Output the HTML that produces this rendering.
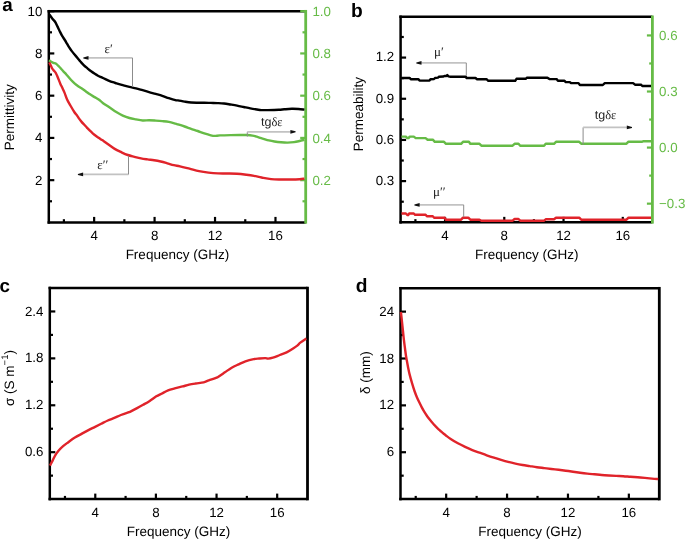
<!DOCTYPE html>
<html><head><meta charset="utf-8"><title>Figure</title>
<style>html,body{margin:0;padding:0;background:#fff;width:685px;height:540px;overflow:hidden}svg{display:block;will-change:transform;text-rendering:geometricPrecision}</style>
</head><body>
<svg width="685" height="540" viewBox="0 0 685 540">
<rect width="685" height="540" fill="#fff"/>
<line x1="63.91" y1="222.4" x2="63.91" y2="219.2" stroke="#000" stroke-width="2.2" stroke-linecap="butt"/>
<line x1="94.14" y1="222.4" x2="94.14" y2="216.9" stroke="#000" stroke-width="2.2" stroke-linecap="butt"/>
<text x="94.14" y="240.1" font-size="13.3" text-anchor="middle" fill="#000" font-family='"Liberation Sans", sans-serif' >4</text>
<line x1="124.36" y1="222.4" x2="124.36" y2="219.2" stroke="#000" stroke-width="2.2" stroke-linecap="butt"/>
<line x1="154.58" y1="222.4" x2="154.58" y2="216.9" stroke="#000" stroke-width="2.2" stroke-linecap="butt"/>
<text x="154.58" y="240.1" font-size="13.3" text-anchor="middle" fill="#000" font-family='"Liberation Sans", sans-serif' >8</text>
<line x1="184.81" y1="222.4" x2="184.81" y2="219.2" stroke="#000" stroke-width="2.2" stroke-linecap="butt"/>
<line x1="215.03" y1="222.4" x2="215.03" y2="216.9" stroke="#000" stroke-width="2.2" stroke-linecap="butt"/>
<text x="215.03" y="240.1" font-size="13.3" text-anchor="middle" fill="#000" font-family='"Liberation Sans", sans-serif' >12</text>
<line x1="245.25" y1="222.4" x2="245.25" y2="219.2" stroke="#000" stroke-width="2.2" stroke-linecap="butt"/>
<line x1="275.48" y1="222.4" x2="275.48" y2="216.9" stroke="#000" stroke-width="2.2" stroke-linecap="butt"/>
<text x="275.48" y="240.1" font-size="13.3" text-anchor="middle" fill="#000" font-family='"Liberation Sans", sans-serif' >16</text>
<line x1="48.8" y1="201.28" x2="52" y2="201.28" stroke="#000" stroke-width="2.2" stroke-linecap="butt"/>
<line x1="48.8" y1="180.16" x2="54.3" y2="180.16" stroke="#000" stroke-width="2.2" stroke-linecap="butt"/>
<text x="42.4" y="184.66" font-size="13.3" text-anchor="end" fill="#000" font-family='"Liberation Sans", sans-serif' >2</text>
<line x1="48.8" y1="159.04" x2="52" y2="159.04" stroke="#000" stroke-width="2.2" stroke-linecap="butt"/>
<line x1="48.8" y1="137.92" x2="54.3" y2="137.92" stroke="#000" stroke-width="2.2" stroke-linecap="butt"/>
<text x="42.4" y="142.42" font-size="13.3" text-anchor="end" fill="#000" font-family='"Liberation Sans", sans-serif' >4</text>
<line x1="48.8" y1="116.8" x2="52" y2="116.8" stroke="#000" stroke-width="2.2" stroke-linecap="butt"/>
<line x1="48.8" y1="95.68" x2="54.3" y2="95.68" stroke="#000" stroke-width="2.2" stroke-linecap="butt"/>
<text x="42.4" y="100.18" font-size="13.3" text-anchor="end" fill="#000" font-family='"Liberation Sans", sans-serif' >6</text>
<line x1="48.8" y1="74.56" x2="52" y2="74.56" stroke="#000" stroke-width="2.2" stroke-linecap="butt"/>
<line x1="48.8" y1="53.44" x2="54.3" y2="53.44" stroke="#000" stroke-width="2.2" stroke-linecap="butt"/>
<text x="42.4" y="57.94" font-size="13.3" text-anchor="end" fill="#000" font-family='"Liberation Sans", sans-serif' >8</text>
<line x1="48.8" y1="32.32" x2="52" y2="32.32" stroke="#000" stroke-width="2.2" stroke-linecap="butt"/>
<line x1="48.8" y1="11.2" x2="54.3" y2="11.2" stroke="#000" stroke-width="2.2" stroke-linecap="butt"/>
<text x="42.4" y="15.7" font-size="13.3" text-anchor="end" fill="#000" font-family='"Liberation Sans", sans-serif' >10</text>
<line x1="47.55" y1="11.2" x2="305.7" y2="11.2" stroke="#000" stroke-width="2.5" stroke-linecap="butt"/>
<line x1="48.8" y1="9.95" x2="48.8" y2="223.65" stroke="#000" stroke-width="2.5" stroke-linecap="butt"/>
<line x1="47.55" y1="222.4" x2="305.7" y2="222.4" stroke="#000" stroke-width="2.5" stroke-linecap="butt"/>
<line x1="305.7" y1="9.95" x2="305.7" y2="223.65" stroke="#66bb46" stroke-width="2.8" stroke-linecap="butt"/>
<line x1="305.7" y1="201.28" x2="302.5" y2="201.28" stroke="#66bb46" stroke-width="2.2" stroke-linecap="butt"/>
<line x1="305.7" y1="180.16" x2="300.2" y2="180.16" stroke="#66bb46" stroke-width="2.2" stroke-linecap="butt"/>
<text x="312.4" y="184.96" font-size="13.3" text-anchor="start" fill="#66bb46" font-family='"Liberation Sans", sans-serif' >0.2</text>
<line x1="305.7" y1="159.04" x2="302.5" y2="159.04" stroke="#66bb46" stroke-width="2.2" stroke-linecap="butt"/>
<line x1="305.7" y1="137.92" x2="300.2" y2="137.92" stroke="#66bb46" stroke-width="2.2" stroke-linecap="butt"/>
<text x="312.4" y="142.72" font-size="13.3" text-anchor="start" fill="#66bb46" font-family='"Liberation Sans", sans-serif' >0.4</text>
<line x1="305.7" y1="116.8" x2="302.5" y2="116.8" stroke="#66bb46" stroke-width="2.2" stroke-linecap="butt"/>
<line x1="305.7" y1="95.68" x2="300.2" y2="95.68" stroke="#66bb46" stroke-width="2.2" stroke-linecap="butt"/>
<text x="312.4" y="100.48" font-size="13.3" text-anchor="start" fill="#66bb46" font-family='"Liberation Sans", sans-serif' >0.6</text>
<line x1="305.7" y1="74.56" x2="302.5" y2="74.56" stroke="#66bb46" stroke-width="2.2" stroke-linecap="butt"/>
<line x1="305.7" y1="53.44" x2="300.2" y2="53.44" stroke="#66bb46" stroke-width="2.2" stroke-linecap="butt"/>
<text x="312.4" y="58.24" font-size="13.3" text-anchor="start" fill="#66bb46" font-family='"Liberation Sans", sans-serif' >0.8</text>
<line x1="305.7" y1="32.32" x2="302.5" y2="32.32" stroke="#66bb46" stroke-width="2.2" stroke-linecap="butt"/>
<line x1="305.7" y1="11.2" x2="300.2" y2="11.2" stroke="#66bb46" stroke-width="2.2" stroke-linecap="butt"/>
<text x="312.4" y="16" font-size="13.3" text-anchor="start" fill="#66bb46" font-family='"Liberation Sans", sans-serif' >1.0</text>
<text x="177.4" y="259.3" font-size="13.5" text-anchor="middle" fill="#000" font-family='"Liberation Sans", sans-serif' >Frequency (GHz)</text>
<path d="M49.3,14.4 C49.82,15.12 51.42,17.43 52.4,18.7 C53.38,19.97 54.37,20.72 55.2,22 C56.03,23.28 56.65,24.87 57.4,26.4 C58.15,27.93 58.93,29.67 59.7,31.2 C60.47,32.73 61.15,34.13 62,35.6 C62.85,37.07 63.97,38.65 64.8,40 C65.63,41.35 66.27,42.47 67,43.7 C67.73,44.93 68.4,46.17 69.2,47.4 C70,48.63 70.87,49.87 71.8,51.1 C72.73,52.33 73.78,53.57 74.8,54.8 C75.82,56.03 76.97,57.38 77.9,58.5 C78.83,59.62 79.43,60.4 80.4,61.5 C81.37,62.6 82.53,63.97 83.7,65.1 C84.87,66.23 86.17,67.27 87.4,68.3 C88.63,69.33 89.87,70.38 91.1,71.3 C92.33,72.22 93.65,73.07 94.8,73.8 C95.95,74.53 96.85,75.1 98,75.7 C99.15,76.3 100.47,76.83 101.7,77.4 C102.93,77.97 104.17,78.53 105.4,79.1 C106.63,79.67 107.87,80.28 109.1,80.8 C110.33,81.32 111.57,81.78 112.8,82.2 C114.03,82.62 114.83,82.82 116.5,83.3 C118.17,83.78 120.65,84.5 122.8,85.1 C124.95,85.7 127.2,86.37 129.4,86.9 C131.6,87.43 133.8,87.75 136,88.3 C138.2,88.85 140.42,89.57 142.6,90.2 C144.78,90.83 146.92,91.48 149.1,92.1 C151.28,92.72 153.5,93.28 155.7,93.9 C157.9,94.52 160.12,95.08 162.3,95.8 C164.48,96.52 166.62,97.47 168.8,98.2 C170.98,98.93 173.87,99.83 175.4,100.2 C176.93,100.57 176.47,100.17 178,100.4 C179.53,100.63 182.42,101.25 184.6,101.6 C186.78,101.95 188.92,102.32 191.1,102.5 C193.28,102.68 195.5,102.67 197.7,102.7 C199.9,102.73 202.12,102.67 204.3,102.7 C206.48,102.73 208.62,102.83 210.8,102.9 C212.98,102.97 215.2,103 217.4,103.1 C219.6,103.2 221.8,103.27 224,103.5 C226.2,103.73 228.42,104.15 230.6,104.5 C232.78,104.85 234.92,105.18 237.1,105.6 C239.28,106.02 241.5,106.53 243.7,107 C245.9,107.47 248.1,107.98 250.3,108.4 C252.5,108.82 255.07,109.22 256.9,109.5 C258.73,109.78 259.48,110 261.3,110.1 C263.12,110.2 264.88,110.15 267.8,110.1 C270.72,110.05 276.05,109.93 278.8,109.8 C281.55,109.67 282.12,109.47 284.3,109.3 C286.48,109.13 289.53,108.85 291.9,108.8 C294.27,108.75 296.42,108.87 298.5,109 C300.58,109.13 303.42,109.5 304.4,109.6" fill="none" stroke="#000" stroke-width="2.4" stroke-linejoin="round"/>
<path d="M49,60.2 C49.37,60.45 50.47,61.27 51.2,61.7 C51.93,62.13 52.58,62.47 53.4,62.8 C54.22,63.13 55.27,63.18 56.1,63.7 C56.93,64.22 57.58,65.07 58.4,65.9 C59.22,66.73 60.13,67.75 61,68.7 C61.87,69.65 62.68,70.6 63.6,71.6 C64.52,72.6 65.25,73.3 66.5,74.7 C67.75,76.1 69.72,78.52 71.1,80 C72.48,81.48 73.57,82.53 74.8,83.6 C76.03,84.67 77.27,85.53 78.5,86.4 C79.73,87.27 80.97,87.97 82.2,88.8 C83.43,89.63 84.67,90.52 85.9,91.4 C87.13,92.28 88.37,93.27 89.6,94.1 C90.83,94.93 92.07,95.67 93.3,96.4 C94.53,97.13 95.88,97.82 97,98.5 C98.12,99.18 98.98,99.72 100,100.5 C101.02,101.28 101.48,102.02 103.1,103.2 C104.72,104.38 107.5,106.12 109.7,107.6 C111.9,109.08 114.12,110.77 116.3,112.1 C118.48,113.43 120.62,114.62 122.8,115.6 C124.98,116.58 127.2,117.37 129.4,118 C131.6,118.63 133.8,118.98 136,119.4 C138.2,119.82 140.42,120.35 142.6,120.5 C144.78,120.65 146.92,120.28 149.1,120.3 C151.28,120.32 153.5,120.47 155.7,120.6 C157.9,120.73 160.12,120.88 162.3,121.1 C164.48,121.32 166.62,121.48 168.8,121.9 C170.98,122.32 173.87,123.18 175.4,123.6 C176.93,124.02 176.47,123.92 178,124.4 C179.53,124.88 182.42,125.77 184.6,126.5 C186.78,127.23 188.92,128.05 191.1,128.8 C193.28,129.55 195.5,130.23 197.7,131 C199.9,131.77 202.12,132.68 204.3,133.4 C206.48,134.12 209.05,134.88 210.8,135.3 C212.55,135.72 213.27,135.88 214.8,135.9 C216.33,135.92 217.37,135.53 220,135.4 C222.63,135.27 227,135.17 230.6,135.1 C234.2,135.03 238.87,135.02 241.6,135 C244.33,134.98 245.18,134.9 247,135 C248.82,135.1 250.67,135.25 252.5,135.6 C254.33,135.95 256.17,136.57 258,137.1 C259.83,137.63 261.68,138.25 263.5,138.8 C265.32,139.35 267.08,139.95 268.9,140.4 C270.72,140.85 272.38,141.18 274.4,141.5 C276.42,141.82 278.8,142.12 281,142.3 C283.2,142.48 285.42,142.63 287.6,142.6 C289.78,142.57 292.1,142.37 294.1,142.1 C296.1,141.83 297.88,141.38 299.6,141 C301.32,140.62 303.6,140 304.4,139.8" fill="none" stroke="#66bb46" stroke-width="2.4" stroke-linejoin="round"/>
<path d="M49.3,62.4 C49.55,62.9 50.3,64.35 50.8,65.4 C51.3,66.45 51.75,67.78 52.3,68.7 C52.85,69.62 53.55,70.25 54.1,70.9 C54.65,71.55 55.1,71.8 55.6,72.6 C56.1,73.4 56.6,74.57 57.1,75.7 C57.6,76.83 58.05,78.03 58.6,79.4 C59.15,80.77 59.78,82.5 60.4,83.9 C61.02,85.3 61.62,86.35 62.3,87.8 C62.98,89.25 63.7,90.63 64.5,92.6 C65.3,94.57 66.12,97.45 67.1,99.6 C68.08,101.75 69.2,103.43 70.4,105.5 C71.6,107.57 73.18,110.32 74.3,112 C75.42,113.68 76.27,114.45 77.1,115.6 C77.93,116.75 78.55,117.85 79.3,118.9 C80.05,119.95 80.77,120.92 81.6,121.9 C82.43,122.88 83.38,123.82 84.3,124.8 C85.22,125.78 86.17,126.82 87.1,127.8 C88.03,128.78 88.97,129.78 89.9,130.7 C90.83,131.62 91.78,132.5 92.7,133.3 C93.62,134.1 94.48,134.8 95.4,135.5 C96.32,136.2 97.27,136.85 98.2,137.5 C99.13,138.15 100.07,138.78 101,139.4 C101.93,140.02 102.62,140.38 103.8,141.2 C104.98,142.02 106.28,143.02 108.1,144.3 C109.92,145.58 112.5,147.58 114.7,148.9 C116.9,150.22 119.12,151.18 121.3,152.2 C123.48,153.22 125.62,154.23 127.8,155 C129.98,155.77 132.2,156.23 134.4,156.8 C136.6,157.37 138.8,157.97 141,158.4 C143.2,158.83 145.42,159.1 147.6,159.4 C149.78,159.7 151.92,159.85 154.1,160.2 C156.28,160.55 158.5,160.98 160.7,161.5 C162.9,162.02 165.12,162.68 167.3,163.3 C169.48,163.92 171.68,164.68 173.8,165.2 C175.92,165.72 177.38,165.82 180,166.4 C182.62,166.98 186.33,167.92 189.5,168.7 C192.67,169.48 195.83,170.45 199,171.1 C202.17,171.75 205.33,172.22 208.5,172.6 C211.67,172.98 214.85,173.25 218,173.4 C221.15,173.55 224.25,173.43 227.4,173.5 C230.55,173.57 233.73,173.58 236.9,173.8 C240.07,174.02 243.55,174.45 246.4,174.8 C249.25,175.15 251.47,175.45 254,175.9 C256.53,176.35 258.75,176.97 261.6,177.5 C264.45,178.03 267.93,178.77 271.1,179.1 C274.27,179.43 277.43,179.43 280.6,179.5 C283.77,179.57 286.93,179.55 290.1,179.5 C293.27,179.45 297.22,179.35 299.6,179.2 C301.98,179.05 303.6,178.7 304.4,178.6" fill="none" stroke="#e0232a" stroke-width="2.4" stroke-linejoin="round"/>
<line x1="86" y1="57.9" x2="132.5" y2="57.9" stroke="#c2c2c2" stroke-width="1.8"/>
<line x1="132.5" y1="57.9" x2="132.5" y2="87" stroke="#8c8c8c" stroke-width="1.0"/>
<path d="M83.3,57.4 L88.5,56 L88.5,59.8 L83.3,58.4 Z" fill="#111"/>
<text x="104.6" y="52.5" font-size="13" text-anchor="start" fill="#222" font-family='"Liberation Serif", serif' >ε<tspan font-family='"Liberation Serif", serif'>′</tspan></text>
<line x1="81" y1="174.4" x2="128.5" y2="174.4" stroke="#c2c2c2" stroke-width="1.8"/>
<line x1="128.5" y1="155.9" x2="128.5" y2="174.4" stroke="#8c8c8c" stroke-width="1.0"/>
<path d="M77.9,173.9 L83.1,172.5 L83.1,176.3 L77.9,174.9 Z" fill="#111"/>
<text x="97.2" y="169" font-size="13" text-anchor="start" fill="#222" font-family='"Liberation Serif", serif' >ε′′</text>
<line x1="247.3" y1="131.8" x2="247.3" y2="136.6" stroke="#8c8c8c" stroke-width="1.0"/>
<line x1="247.3" y1="131.8" x2="291" y2="131.8" stroke="#c2c2c2" stroke-width="1.8"/>
<path d="M295.6,131.3 L290.4,129.9 L290.4,133.7 L295.6,132.3 Z" fill="#111"/>
<text x="261" y="126" font-size="12.5" text-anchor="start" fill="#222" font-family='"Liberation Sans", sans-serif' >tg<tspan font-family='"Liberation Serif", serif'>δε</tspan></text>
<text x="2.3" y="10.8" font-size="18.8" text-anchor="start" fill="#000" font-family='"Liberation Sans", sans-serif' font-weight="bold">a</text>
<text x="0" y="0" font-size="13.5" text-anchor="middle" fill="#000" font-family='"Liberation Sans", sans-serif' transform="translate(14,117.3) rotate(-90)">Permittivity</text>
<line x1="415.41" y1="222.35" x2="415.41" y2="219.15" stroke="#000" stroke-width="2.2" stroke-linecap="butt"/>
<line x1="445.04" y1="222.35" x2="445.04" y2="216.85" stroke="#000" stroke-width="2.2" stroke-linecap="butt"/>
<text x="445.04" y="240.05" font-size="13.3" text-anchor="middle" fill="#000" font-family='"Liberation Sans", sans-serif' >4</text>
<line x1="474.66" y1="222.35" x2="474.66" y2="219.15" stroke="#000" stroke-width="2.2" stroke-linecap="butt"/>
<line x1="504.28" y1="222.35" x2="504.28" y2="216.85" stroke="#000" stroke-width="2.2" stroke-linecap="butt"/>
<text x="504.28" y="240.05" font-size="13.3" text-anchor="middle" fill="#000" font-family='"Liberation Sans", sans-serif' >8</text>
<line x1="533.91" y1="222.35" x2="533.91" y2="219.15" stroke="#000" stroke-width="2.2" stroke-linecap="butt"/>
<line x1="563.53" y1="222.35" x2="563.53" y2="216.85" stroke="#000" stroke-width="2.2" stroke-linecap="butt"/>
<text x="563.53" y="240.05" font-size="13.3" text-anchor="middle" fill="#000" font-family='"Liberation Sans", sans-serif' >12</text>
<line x1="593.15" y1="222.35" x2="593.15" y2="219.15" stroke="#000" stroke-width="2.2" stroke-linecap="butt"/>
<line x1="622.78" y1="222.35" x2="622.78" y2="216.85" stroke="#000" stroke-width="2.2" stroke-linecap="butt"/>
<text x="622.78" y="240.05" font-size="13.3" text-anchor="middle" fill="#000" font-family='"Liberation Sans", sans-serif' >16</text>
<line x1="400.6" y1="201.71" x2="403.8" y2="201.71" stroke="#000" stroke-width="2.2" stroke-linecap="butt"/>
<line x1="400.6" y1="181.12" x2="406.1" y2="181.12" stroke="#000" stroke-width="2.2" stroke-linecap="butt"/>
<text x="394.2" y="184.92" font-size="13.3" text-anchor="end" fill="#000" font-family='"Liberation Sans", sans-serif' >0.3</text>
<line x1="400.6" y1="160.53" x2="403.8" y2="160.53" stroke="#000" stroke-width="2.2" stroke-linecap="butt"/>
<line x1="400.6" y1="139.94" x2="406.1" y2="139.94" stroke="#000" stroke-width="2.2" stroke-linecap="butt"/>
<text x="394.2" y="143.74" font-size="13.3" text-anchor="end" fill="#000" font-family='"Liberation Sans", sans-serif' >0.6</text>
<line x1="400.6" y1="119.35" x2="403.8" y2="119.35" stroke="#000" stroke-width="2.2" stroke-linecap="butt"/>
<line x1="400.6" y1="98.76" x2="406.1" y2="98.76" stroke="#000" stroke-width="2.2" stroke-linecap="butt"/>
<text x="394.2" y="102.56" font-size="13.3" text-anchor="end" fill="#000" font-family='"Liberation Sans", sans-serif' >0.9</text>
<line x1="400.6" y1="78.17" x2="403.8" y2="78.17" stroke="#000" stroke-width="2.2" stroke-linecap="butt"/>
<line x1="400.6" y1="57.58" x2="406.1" y2="57.58" stroke="#000" stroke-width="2.2" stroke-linecap="butt"/>
<text x="394.2" y="61.38" font-size="13.3" text-anchor="end" fill="#000" font-family='"Liberation Sans", sans-serif' >1.2</text>
<line x1="400.6" y1="36.99" x2="403.8" y2="36.99" stroke="#000" stroke-width="2.2" stroke-linecap="butt"/>
<line x1="399.35" y1="16.75" x2="652.4" y2="16.75" stroke="#000" stroke-width="2.5" stroke-linecap="butt"/>
<line x1="400.6" y1="15.5" x2="400.6" y2="223.6" stroke="#000" stroke-width="2.5" stroke-linecap="butt"/>
<line x1="399.35" y1="222.35" x2="652.4" y2="222.35" stroke="#000" stroke-width="2.5" stroke-linecap="butt"/>
<line x1="652.4" y1="15.5" x2="652.4" y2="223.6" stroke="#66bb46" stroke-width="2.8" stroke-linecap="butt"/>
<line x1="652.4" y1="203.66" x2="646.9" y2="203.66" stroke="#66bb46" stroke-width="2.2" stroke-linecap="butt"/>
<text x="659.1" y="208.26" font-size="13.3" text-anchor="start" fill="#66bb46" font-family='"Liberation Sans", sans-serif' >−0.3</text>
<line x1="652.4" y1="175.62" x2="649.2" y2="175.62" stroke="#66bb46" stroke-width="2.2" stroke-linecap="butt"/>
<line x1="652.4" y1="147.59" x2="646.9" y2="147.59" stroke="#66bb46" stroke-width="2.2" stroke-linecap="butt"/>
<text x="659.1" y="152.19" font-size="13.3" text-anchor="start" fill="#66bb46" font-family='"Liberation Sans", sans-serif' >0.0</text>
<line x1="652.4" y1="119.55" x2="649.2" y2="119.55" stroke="#66bb46" stroke-width="2.2" stroke-linecap="butt"/>
<line x1="652.4" y1="91.51" x2="646.9" y2="91.51" stroke="#66bb46" stroke-width="2.2" stroke-linecap="butt"/>
<text x="659.1" y="96.11" font-size="13.3" text-anchor="start" fill="#66bb46" font-family='"Liberation Sans", sans-serif' >0.3</text>
<line x1="652.4" y1="63.48" x2="649.2" y2="63.48" stroke="#66bb46" stroke-width="2.2" stroke-linecap="butt"/>
<line x1="652.4" y1="35.44" x2="646.9" y2="35.44" stroke="#66bb46" stroke-width="2.2" stroke-linecap="butt"/>
<text x="659.1" y="40.04" font-size="13.3" text-anchor="start" fill="#66bb46" font-family='"Liberation Sans", sans-serif' >0.6</text>
<text x="526.8" y="259.25" font-size="13.5" text-anchor="middle" fill="#000" font-family='"Liberation Sans", sans-serif' >Frequency (GHz)</text>
<path d="M401.5,78 L409.8,78 L410.8,79.3 L418.5,79.3 L419.5,80.6 L429.5,80.6 L430.5,79.3 L434,79 L435,78 L438,77.6 L439,76.7 L443.5,76.5 L444.5,76 L446.5,76 L447.3,75.1 L448.5,76.4 L450.6,76.7 L465.7,76.7 L466.6,78 L475.5,78 L476.8,79.2 L486.5,79.2 L488.3,80.8 L515.2,80.8 L516.5,78.8 L525.7,78.8 L527,77.7 L547.4,77.7 L549.4,79.1 L556.6,79.1 L557.9,80.8 L564.5,80.8 L565.8,82.1 L569.5,82.1 L571,83.1 L578.5,83.1 L579.9,85 L602.8,85 L604.8,83.1 L633.1,83.1 L635,84.7 L641,84.7 L642.3,86 L651,86" fill="none" stroke="#000" stroke-width="2.4" stroke-linejoin="round"/>
<path d="M401.5,136.6 L405.9,136.6 L407.2,138.1 L408.5,138.1 L409.8,136.6 L413.8,136.6 L415.7,138.1 L425.6,138.1 L427.6,139.7 L432.8,139.7 L434.8,141.8 L444,141.8 L446,143.8 L461.1,143.8 L463,141.8 L468.9,141.8 L470.3,143.8 L479.5,143.8 L481.4,145.7 L512.6,145.7 L514.6,143.8 L518.5,143.8 L520.2,145.7 L544.1,145.7 L545.7,143.8 L554,143.8 L556,141.8 L579.2,141.8 L581.2,143.7 L626.5,143.7 L628.5,141.7 L642.3,141.7 L643.6,141.2 L651,141.2" fill="none" stroke="#66bb46" stroke-width="2.4" stroke-linejoin="round"/>
<path d="M401.5,213.5 L405.9,213.5 L407.5,215.1 L408.2,215.1 L409.2,213.5 L413.8,213.5 L415.1,214.8 L425.6,214.8 L426.9,216.3 L432.8,216.3 L434.1,217.7 L444.6,217.7 L446,219.7 L461.1,219.7 L463,217.7 L468.3,217.7 L470.3,219.7 L479.5,219.7 L481.4,220.7 L512.6,220.7 L514.6,219 L518.5,219 L520.2,220.7 L544.1,220.7 L545.7,219.3 L554,219.3 L556,217.7 L579.2,217.7 L581.2,219.7 L626.5,219.7 L628.5,217.7 L651,217.7" fill="none" stroke="#e0232a" stroke-width="2.4" stroke-linejoin="round"/>
<line x1="419" y1="62.9" x2="466.3" y2="62.9" stroke="#c2c2c2" stroke-width="1.8"/>
<line x1="466.3" y1="62.9" x2="466.3" y2="75.8" stroke="#8c8c8c" stroke-width="1.0"/>
<path d="M416.3,62.4 L421.5,61 L421.5,64.8 L416.3,63.4 Z" fill="#111"/>
<text x="434" y="56.2" font-size="13" text-anchor="start" fill="#222" font-family='"Liberation Serif", serif' >μ′</text>
<line x1="417" y1="204.9" x2="463.7" y2="204.9" stroke="#c2c2c2" stroke-width="1.8"/>
<line x1="463.7" y1="204.9" x2="463.7" y2="217.1" stroke="#8c8c8c" stroke-width="1.0"/>
<path d="M414.4,204.4 L419.6,203 L419.6,206.8 L414.4,205.4 Z" fill="#111"/>
<text x="433" y="196.3" font-size="13" text-anchor="start" fill="#222" font-family='"Liberation Serif", serif' >μ′′</text>
<line x1="583.1" y1="127.4" x2="583.1" y2="144.7" stroke="#8c8c8c" stroke-width="1.0"/>
<line x1="583.1" y1="127.4" x2="628" y2="127.4" stroke="#c2c2c2" stroke-width="1.8"/>
<path d="M632,126.9 L626.8,125.5 L626.8,129.3 L632,127.9 Z" fill="#111"/>
<text x="594.8" y="118.9" font-size="12.5" text-anchor="start" fill="#222" font-family='"Liberation Sans", sans-serif' >tg<tspan font-family='"Liberation Serif", serif'>δε</tspan></text>
<text x="351" y="16.9" font-size="19.2" text-anchor="start" fill="#000" font-family='"Liberation Sans", sans-serif' font-weight="bold">b</text>
<text x="0" y="0" font-size="13.5" text-anchor="middle" fill="#000" font-family='"Liberation Sans", sans-serif' transform="translate(362.9,114.2) rotate(-90)">Permeability</text>
<line x1="64.96" y1="499.1" x2="64.96" y2="495.9" stroke="#000" stroke-width="2.2" stroke-linecap="butt"/>
<line x1="95.28" y1="499.1" x2="95.28" y2="493.6" stroke="#000" stroke-width="2.2" stroke-linecap="butt"/>
<text x="95.28" y="516.8" font-size="13.3" text-anchor="middle" fill="#000" font-family='"Liberation Sans", sans-serif' >4</text>
<line x1="125.59" y1="499.1" x2="125.59" y2="495.9" stroke="#000" stroke-width="2.2" stroke-linecap="butt"/>
<line x1="155.91" y1="499.1" x2="155.91" y2="493.6" stroke="#000" stroke-width="2.2" stroke-linecap="butt"/>
<text x="155.91" y="516.8" font-size="13.3" text-anchor="middle" fill="#000" font-family='"Liberation Sans", sans-serif' >8</text>
<line x1="186.23" y1="499.1" x2="186.23" y2="495.9" stroke="#000" stroke-width="2.2" stroke-linecap="butt"/>
<line x1="216.55" y1="499.1" x2="216.55" y2="493.6" stroke="#000" stroke-width="2.2" stroke-linecap="butt"/>
<text x="216.55" y="516.8" font-size="13.3" text-anchor="middle" fill="#000" font-family='"Liberation Sans", sans-serif' >12</text>
<line x1="246.86" y1="499.1" x2="246.86" y2="495.9" stroke="#000" stroke-width="2.2" stroke-linecap="butt"/>
<line x1="277.18" y1="499.1" x2="277.18" y2="493.6" stroke="#000" stroke-width="2.2" stroke-linecap="butt"/>
<text x="277.18" y="516.8" font-size="13.3" text-anchor="middle" fill="#000" font-family='"Liberation Sans", sans-serif' >16</text>
<line x1="49.8" y1="475.64" x2="53" y2="475.64" stroke="#000" stroke-width="2.2" stroke-linecap="butt"/>
<line x1="49.8" y1="452.19" x2="55.3" y2="452.19" stroke="#000" stroke-width="2.2" stroke-linecap="butt"/>
<text x="43.4" y="456.29" font-size="13.3" text-anchor="end" fill="#000" font-family='"Liberation Sans", sans-serif' >0.6</text>
<line x1="49.8" y1="428.73" x2="53" y2="428.73" stroke="#000" stroke-width="2.2" stroke-linecap="butt"/>
<line x1="49.8" y1="405.28" x2="55.3" y2="405.28" stroke="#000" stroke-width="2.2" stroke-linecap="butt"/>
<text x="43.4" y="409.38" font-size="13.3" text-anchor="end" fill="#000" font-family='"Liberation Sans", sans-serif' >1.2</text>
<line x1="49.8" y1="381.82" x2="53" y2="381.82" stroke="#000" stroke-width="2.2" stroke-linecap="butt"/>
<line x1="49.8" y1="358.37" x2="55.3" y2="358.37" stroke="#000" stroke-width="2.2" stroke-linecap="butt"/>
<text x="43.4" y="362.47" font-size="13.3" text-anchor="end" fill="#000" font-family='"Liberation Sans", sans-serif' >1.8</text>
<line x1="49.8" y1="334.91" x2="53" y2="334.91" stroke="#000" stroke-width="2.2" stroke-linecap="butt"/>
<line x1="49.8" y1="311.46" x2="55.3" y2="311.46" stroke="#000" stroke-width="2.2" stroke-linecap="butt"/>
<text x="43.4" y="315.56" font-size="13.3" text-anchor="end" fill="#000" font-family='"Liberation Sans", sans-serif' >2.4</text>
<line x1="48.55" y1="288" x2="307.5" y2="288" stroke="#000" stroke-width="2.5" stroke-linecap="butt"/>
<line x1="49.8" y1="286.75" x2="49.8" y2="500.35" stroke="#000" stroke-width="2.5" stroke-linecap="butt"/>
<line x1="48.55" y1="499.1" x2="307.5" y2="499.1" stroke="#000" stroke-width="2.5" stroke-linecap="butt"/>
<line x1="307.5" y1="286.75" x2="307.5" y2="500.35" stroke="#000" stroke-width="2.8" stroke-linecap="butt"/>
<text x="178.6" y="536" font-size="13.5" text-anchor="middle" fill="#000" font-family='"Liberation Sans", sans-serif' >Frequency (GHz)</text>
<path d="M50,465.6 C50.43,464.77 51.73,462.32 52.6,460.6 C53.47,458.88 54.22,456.95 55.2,455.3 C56.18,453.65 57.18,452.23 58.5,450.7 C59.82,449.17 61.47,447.52 63.1,446.1 C64.73,444.68 66.33,443.62 68.3,442.2 C70.27,440.78 72.7,438.98 74.9,437.6 C77.1,436.22 79.32,435.1 81.5,433.9 C83.68,432.7 85.82,431.53 88,430.4 C90.18,429.27 92.4,428.2 94.6,427.1 C96.8,426 99,424.9 101.2,423.8 C103.4,422.7 105.62,421.48 107.8,420.5 C109.98,419.52 112.12,418.82 114.3,417.9 C116.48,416.98 118.7,415.88 120.9,415 C123.1,414.12 125.98,413.13 127.5,412.6 C129.02,412.07 128.48,412.5 130,411.8 C131.52,411.1 134.42,409.57 136.6,408.4 C138.78,407.23 140.92,406.05 143.1,404.8 C145.28,403.55 147.5,402.32 149.7,400.9 C151.9,399.48 154.33,397.5 156.3,396.3 C158.27,395.1 159.53,394.68 161.5,393.7 C163.47,392.72 165.9,391.28 168.1,390.4 C170.3,389.52 172.28,389.07 174.7,388.4 C177.12,387.73 180.2,387.02 182.6,386.4 C185,385.78 186.92,385.18 189.1,384.7 C191.28,384.22 193.28,383.9 195.7,383.5 C198.12,383.1 201.42,382.82 203.6,382.3 C205.78,381.78 206.83,381.08 208.8,380.4 C210.77,379.72 213.87,378.78 215.4,378.2 C216.93,377.62 216.42,377.88 218,376.9 C219.58,375.92 222.62,373.83 224.9,372.3 C227.18,370.77 229.42,369.03 231.7,367.7 C233.98,366.37 236.32,365.37 238.6,364.3 C240.88,363.23 242.88,362.17 245.4,361.3 C247.92,360.43 251.4,359.57 253.7,359.1 C256,358.63 257.27,358.67 259.2,358.5 C261.13,358.33 263.82,358.08 265.3,358.1 C266.78,358.12 266.83,358.67 268.1,358.6 C269.37,358.53 270.95,358.3 272.9,357.7 C274.85,357.1 277.52,355.88 279.8,355 C282.08,354.12 284.32,353.52 286.6,352.4 C288.88,351.28 291.67,349.47 293.5,348.3 C295.33,347.13 296.47,346.35 297.6,345.4 C298.73,344.45 298.85,343.73 300.3,342.6 C301.75,341.47 305.3,339.27 306.3,338.6" fill="none" stroke="#e0232a" stroke-width="2.4" stroke-linejoin="round"/>
<text x="-0.4" y="291.7" font-size="18.8" text-anchor="start" fill="#000" font-family='"Liberation Sans", sans-serif' font-weight="bold">c</text>
<text x="0" y="0" font-size="13.5" text-anchor="middle" fill="#000" font-family='"Liberation Sans", sans-serif' transform="translate(13.6,378) rotate(-90)">σ (S m<tspan font-size="9.5" dy="-5.5">−1</tspan><tspan dy="5.5">)</tspan></text>
<line x1="415.72" y1="499.1" x2="415.72" y2="495.9" stroke="#000" stroke-width="2.2" stroke-linecap="butt"/>
<line x1="446.17" y1="499.1" x2="446.17" y2="493.6" stroke="#000" stroke-width="2.2" stroke-linecap="butt"/>
<text x="446.17" y="516.8" font-size="13.3" text-anchor="middle" fill="#000" font-family='"Liberation Sans", sans-serif' >4</text>
<line x1="476.62" y1="499.1" x2="476.62" y2="495.9" stroke="#000" stroke-width="2.2" stroke-linecap="butt"/>
<line x1="507.06" y1="499.1" x2="507.06" y2="493.6" stroke="#000" stroke-width="2.2" stroke-linecap="butt"/>
<text x="507.06" y="516.8" font-size="13.3" text-anchor="middle" fill="#000" font-family='"Liberation Sans", sans-serif' >8</text>
<line x1="537.51" y1="499.1" x2="537.51" y2="495.9" stroke="#000" stroke-width="2.2" stroke-linecap="butt"/>
<line x1="567.96" y1="499.1" x2="567.96" y2="493.6" stroke="#000" stroke-width="2.2" stroke-linecap="butt"/>
<text x="567.96" y="516.8" font-size="13.3" text-anchor="middle" fill="#000" font-family='"Liberation Sans", sans-serif' >12</text>
<line x1="598.41" y1="499.1" x2="598.41" y2="495.9" stroke="#000" stroke-width="2.2" stroke-linecap="butt"/>
<line x1="628.85" y1="499.1" x2="628.85" y2="493.6" stroke="#000" stroke-width="2.2" stroke-linecap="butt"/>
<text x="628.85" y="516.8" font-size="13.3" text-anchor="middle" fill="#000" font-family='"Liberation Sans", sans-serif' >16</text>
<line x1="400.5" y1="475.67" x2="403.7" y2="475.67" stroke="#000" stroke-width="2.2" stroke-linecap="butt"/>
<line x1="400.5" y1="452.23" x2="406" y2="452.23" stroke="#000" stroke-width="2.2" stroke-linecap="butt"/>
<text x="394.1" y="456.23" font-size="13.3" text-anchor="end" fill="#000" font-family='"Liberation Sans", sans-serif' >6</text>
<line x1="400.5" y1="428.8" x2="403.7" y2="428.8" stroke="#000" stroke-width="2.2" stroke-linecap="butt"/>
<line x1="400.5" y1="405.37" x2="406" y2="405.37" stroke="#000" stroke-width="2.2" stroke-linecap="butt"/>
<text x="394.1" y="409.37" font-size="13.3" text-anchor="end" fill="#000" font-family='"Liberation Sans", sans-serif' >12</text>
<line x1="400.5" y1="381.93" x2="403.7" y2="381.93" stroke="#000" stroke-width="2.2" stroke-linecap="butt"/>
<line x1="400.5" y1="358.5" x2="406" y2="358.5" stroke="#000" stroke-width="2.2" stroke-linecap="butt"/>
<text x="394.1" y="362.5" font-size="13.3" text-anchor="end" fill="#000" font-family='"Liberation Sans", sans-serif' >18</text>
<line x1="400.5" y1="335.07" x2="403.7" y2="335.07" stroke="#000" stroke-width="2.2" stroke-linecap="butt"/>
<line x1="400.5" y1="311.63" x2="406" y2="311.63" stroke="#000" stroke-width="2.2" stroke-linecap="butt"/>
<text x="394.1" y="315.63" font-size="13.3" text-anchor="end" fill="#000" font-family='"Liberation Sans", sans-serif' >24</text>
<line x1="399.25" y1="288.2" x2="659.3" y2="288.2" stroke="#000" stroke-width="2.5" stroke-linecap="butt"/>
<line x1="400.5" y1="286.95" x2="400.5" y2="500.35" stroke="#000" stroke-width="2.5" stroke-linecap="butt"/>
<line x1="399.25" y1="499.1" x2="659.3" y2="499.1" stroke="#000" stroke-width="2.5" stroke-linecap="butt"/>
<line x1="659.3" y1="286.95" x2="659.3" y2="500.35" stroke="#000" stroke-width="2.8" stroke-linecap="butt"/>
<text x="530" y="536" font-size="13.5" text-anchor="middle" fill="#000" font-family='"Liberation Sans", sans-serif' >Frequency (GHz)</text>
<path d="M400.9,312 C401.05,313.35 401.47,317.02 401.8,320.1 C402.13,323.18 402.55,327.2 402.9,330.5 C403.25,333.8 403.55,336.9 403.9,339.9 C404.25,342.9 404.65,345.82 405,348.5 C405.35,351.18 405.65,353.75 406,356 C406.35,358.25 406.75,360.1 407.1,362 C407.45,363.9 407.68,365.33 408.1,367.4 C408.52,369.47 408.93,371.73 409.6,374.4 C410.27,377.07 411.28,380.63 412.1,383.4 C412.92,386.17 413.7,388.7 414.5,391 C415.3,393.3 416.08,395.27 416.9,397.2 C417.72,399.13 418.58,400.9 419.4,402.6 C420.22,404.3 421,405.88 421.8,407.4 C422.6,408.92 423.38,410.35 424.2,411.7 C425.02,413.05 425.88,414.32 426.7,415.5 C427.52,416.68 428.3,417.75 429.1,418.8 C429.9,419.85 430.68,420.83 431.5,421.8 C432.32,422.77 433.18,423.7 434,424.6 C434.82,425.5 435.58,426.37 436.4,427.2 C437.22,428.03 438.08,428.85 438.9,429.6 C439.72,430.35 440.5,431 441.3,431.7 C442.1,432.4 442.88,433.13 443.7,433.8 C444.52,434.47 445.03,434.85 446.2,435.7 C447.37,436.55 448.75,437.63 450.7,438.9 C452.65,440.17 455.5,441.97 457.9,443.3 C460.3,444.63 462.7,445.77 465.1,446.9 C467.5,448.03 469.9,449.13 472.3,450.1 C474.7,451.07 477.1,451.83 479.5,452.7 C481.9,453.57 484.3,454.47 486.7,455.3 C489.1,456.13 491.5,456.93 493.9,457.7 C496.3,458.47 498.72,459.2 501.1,459.9 C503.48,460.6 505.82,461.28 508.2,461.9 C510.58,462.52 513,463.08 515.4,463.6 C517.8,464.12 520.2,464.58 522.6,465 C525,465.42 527.4,465.73 529.8,466.1 C532.2,466.47 534.6,466.87 537,467.2 C539.4,467.53 541.8,467.8 544.2,468.1 C546.6,468.4 549,468.72 551.4,469 C553.8,469.28 556.2,469.52 558.6,469.8 C561,470.08 563.4,470.38 565.8,470.7 C568.2,471.02 570.62,471.37 573,471.7 C575.38,472.03 577.72,472.38 580.1,472.7 C582.48,473.02 584.9,473.33 587.3,473.6 C589.7,473.87 592.1,474.07 594.5,474.3 C596.9,474.53 599.3,474.8 601.7,475 C604.1,475.2 606.5,475.35 608.9,475.5 C611.3,475.65 613.7,475.78 616.1,475.9 C618.5,476.02 620.9,476.05 623.3,476.2 C625.7,476.35 628.1,476.62 630.5,476.8 C632.9,476.98 635.3,477.12 637.7,477.3 C640.1,477.48 642.52,477.68 644.9,477.9 C647.28,478.12 649.78,478.4 652,478.6 C654.22,478.8 657.17,479.02 658.2,479.1" fill="none" stroke="#e0232a" stroke-width="2.4" stroke-linejoin="round"/>
<text x="355.8" y="291.8" font-size="19.2" text-anchor="start" fill="#000" font-family='"Liberation Sans", sans-serif' font-weight="bold">d</text>
<text x="0" y="0" font-size="13.5" text-anchor="middle" fill="#000" font-family='"Liberation Sans", sans-serif' transform="translate(370.3,372.6) rotate(-90)">δ (mm)</text>
</svg>
</body></html>
